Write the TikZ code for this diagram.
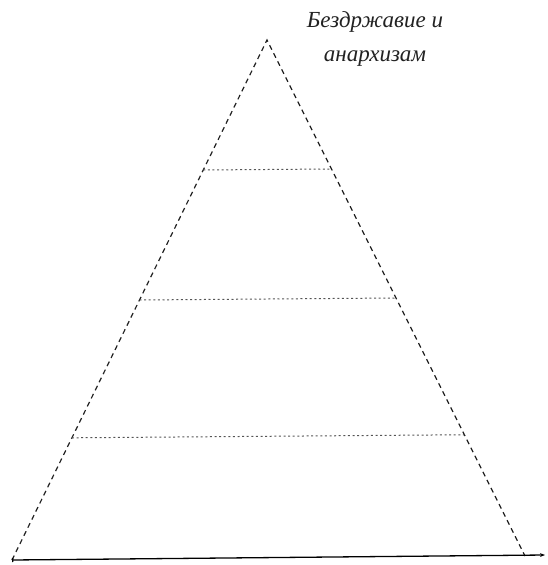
\documentclass[tikz,border=0pt]{standalone}
\usepackage{fontspec}
\setmainfont{Liberation Serif}
\usepackage{tikz}
\usetikzlibrary{positioning, arrows.meta, calc}
\definecolor{inkgray}{HTML}{222222}
\definecolor{dotgray}{HTML}{555555}

\begin{document}
\begin{tikzpicture}[x=1pt, y=-1pt, font=\fontsize{23}{34}\selectfont\itshape]
  \useasboundingbox (0,0) rectangle (547,565);
  \coordinate (apex) at (267,40);
  \coordinate (left) at (12,560);
  \coordinate (right) at (525,556);
  \coordinate (axisend) at (545,555);
  % sides of the pyramid
  \draw[line width=1.2pt, dash pattern=on 5pt off 4pt, inkgray] (left) -- (apex) -- (right);
  % levels
  \foreach \t in {0.25, 0.5, 0.765}
    \draw[line width=1pt, dash pattern=on 2pt off 2.6pt, dotgray] ($(apex)!\t!(left)$) -- ($(apex)!\t!(right)$);
  % base line
  \draw[{Bar[width=4pt]}-{Stealth[length=5pt]}, line width=1.3pt] (left) -- (axisend);
  \node[align=center, inkgray] (top) at (375,39) {Бездржавие и\\анархизам};
\end{tikzpicture}
\end{document}
